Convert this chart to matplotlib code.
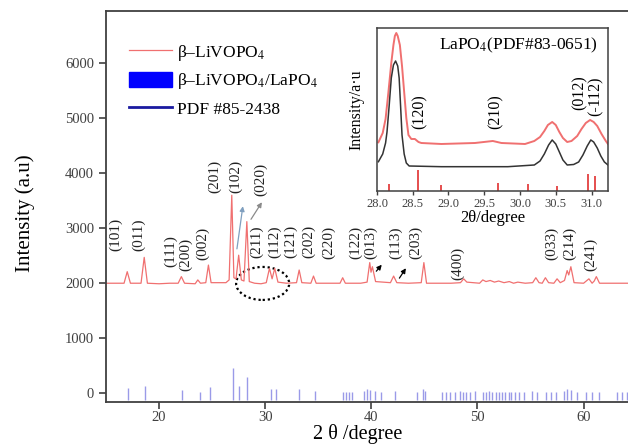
import matplotlib
matplotlib.use("Agg")
from matplotlib import pyplot as plt
from matplotlib.lines import Line2D
from matplotlib.patches import Patch, Ellipse

plt.rcParams["font.family"] = ["Liberation Serif", "DejaVu Serif"]
plt.rcParams["mathtext.fontset"] = "stix"

# main XRD pattern of beta-LiVOPO4
two_theta = [15.0, 16.7, 17.0, 17.3, 18.3, 18.6, 18.9, 20.0, 21.0, 21.8, 22.1,
             22.4, 23.4, 23.65, 23.9, 24.4, 24.65, 24.9, 26.3, 26.6, 26.85,
             27.05, 27.25, 27.5, 27.75, 28.0, 28.27, 28.5, 29.0, 29.6, 30.1,
             30.4, 30.65, 30.9, 31.2, 32.0, 32.95, 33.2, 33.45, 34.3, 34.55,
             34.8, 36.0, 37.05, 37.3, 37.55, 39.0, 39.6, 39.85, 39.97, 40.1,
             40.4, 41.8, 42.1, 42.4, 43.5, 44.7, 44.95, 45.2, 46.5, 47.5,
             48.4, 48.7, 49.0, 49.6, 50.2, 50.5, 50.8, 51.2, 51.6, 52.0, 52.5,
             53.0, 53.4, 53.8, 54.5, 55.2, 55.5, 55.8, 56.1, 56.4, 56.7, 57.2,
             57.5, 57.8, 58.2, 58.45, 58.6, 58.8, 59.1, 60.0, 60.5, 60.8, 61.0,
             61.2, 61.5, 62.5, 64.2, 65.0]
intensity = [2000, 2000, 2210, 2000, 2000, 2470, 2000, 1990, 2000, 2000, 2120,
             2000, 1990, 2060, 2000, 2010, 2330, 2010, 2010, 2060, 3600,
             2100, 2080, 2510, 2060, 2040, 3120, 2030, 2000, 1990, 2010,
             2270, 2080, 2270, 2020, 2000, 2010, 2240, 2010, 2000, 2130,
             2000, 2000, 2000, 2100, 2000, 2000, 2020, 2375, 2200, 2300,
             2030, 2010, 2130, 2010, 2000, 2010, 2375, 2000, 2000, 2000,
             2010, 2080, 2020, 2010, 2000, 2060, 2030, 2050, 2020, 2040, 2010,
             2030, 2000, 2020, 2000, 2010, 2100, 2010, 2000, 2100, 2010, 2000,
             2080, 2010, 2050, 2230, 2150, 2300, 2010, 2000, 2080, 2000, 2040,
             2120, 2000, 2000, 2000, 2000]

# PDF #85-2438 reference lines
pdf_pos = [17.1, 18.7, 22.2, 23.9, 24.8, 26.95, 27.5, 28.3, 30.5, 31.0, 33.2,
           34.7, 37.3, 37.6, 37.9, 38.2, 39.3, 39.6, 39.9, 40.3, 40.9, 42.2,
           44.3, 44.9, 45.1, 46.7, 47.0, 47.4, 47.9, 48.33, 48.65, 48.96,
           49.27, 49.81, 50.53, 50.85, 51.07, 51.39, 51.7, 52.01, 52.33,
           52.64, 52.95, 53.18, 53.49, 53.9, 54.43, 55.16, 55.63, 56.42,
           56.89, 57.36, 58.14, 58.46, 58.77, 59.4, 60.19, 60.82, 61.44,
           63.18, 63.65, 64.06]
pdf_int = [90, 140, 50, 30, 110, 455, 140, 300, 70, 70, 70,
           40, 30, 30, 30, 30, 40, 85, 50, 40, 20, 40,
           20, 70, 40, 20, 20, 20, 30, 40, 30, 30,
           30, 40, 30, 30, 40, 30, 30, 30, 30,
           30, 30, 30, 30, 30, 30, 40, 30, 30,
           30, 30, 40, 70, 60, 30, 30, 30, 30,
           30, 30, 30]
pdf_base = -130

hkl_labels = ["(101)", "(011)", "(111)", "(200)", "(002)", "(201)", "(102)",
              "(020)", "(211)", "(112)", "(121)", "(202)", "(220)", "(122)",
              "(013)", "(113)", "(203)", "(400)", "(033)", "(214)", "(241)"]
hkl_x = [15.95, 18.05, 21.1, 22.5, 24.1, 25.2, 27.25, 29.6, 29.2, 30.85, 32.4,
         34.05, 36.0, 38.55, 39.95, 42.3, 44.2, 48.1, 57.0, 58.7, 60.7]
hkl_y = [2887, 2887, 2578, 2532, 2723, 3941, 3941, 3896, 2760, 2760, 2760,
         2760, 2742, 2742, 2742, 2742, 2742, 2360, 2724, 2724, 2532]

# inset: zoom 28-31.2 deg
ins_red_x = [28.02, 28.08, 28.12, 28.16, 28.2, 28.23, 28.25, 28.27, 28.29,
             28.32, 28.35, 28.38, 28.41, 28.44, 28.48, 28.53, 28.58, 28.62,
             28.9, 29.37, 29.62, 29.74, 30.07, 30.2, 30.28, 30.34, 30.39,
             30.45, 30.5, 30.55, 30.6, 30.66, 30.72, 30.8, 30.86, 30.92,
             30.98, 31.03, 31.08, 31.14, 31.2, 31.23]
ins_red_y = [48.7, 58, 72, 99, 128, 146, 155, 158, 155, 146, 125, 99, 73, 56,
             52, 52, 49, 48, 47, 48, 50, 48, 47, 50, 54, 60, 66, 69, 66, 59,
             53, 49, 50, 55, 62, 68, 71, 69, 65, 57, 50, 47]
ins_blk_x = [28.02, 28.08, 28.12, 28.14, 28.17, 28.2, 28.23, 28.26, 28.29,
             28.31, 28.33, 28.35, 28.38, 28.41, 28.45, 28.9, 29.83, 30.2,
             30.28, 30.34, 30.4, 30.45, 30.5, 30.55, 30.6, 30.66, 30.75,
             30.82, 30.88, 30.94, 30.99, 31.03, 31.08, 31.13, 31.18, 31.23]
ins_blk_y = [29.3, 37, 48, 59, 85, 113, 126, 130, 125, 113, 85, 56, 37, 28,
             25, 24.3, 24.3, 26, 30, 37, 46, 51, 47, 39, 31, 26, 26.5, 29, 36,
             45, 51, 49, 43, 35, 29, 26]
lapo_pos = [28.17, 28.58, 28.9, 29.69, 30.11, 30.52, 30.95, 31.05]
lapo_int = [6.7, 21, 6, 8.3, 6.7, 5.3, 16.7, 15.3]
ins_hkl = ["(120)", "(210)", "(012)", "(-112)"]
ins_hkl_x = [28.6, 29.66, 30.84, 31.06]
ins_hkl_y = [79.5, 79.5, 98.5, 95]

spine_col = "#404040"
red = "#f07070"

fig = plt.figure(figsize=(6.28, 4.45), dpi=100)
ax = fig.add_axes([0.1688, 0.0966, 0.845, 0.8787])
ax.plot(two_theta, intensity, color=red, lw=0.9)
ax.vlines(pdf_pos, pdf_base, pdf_int, color="#9a9ae8", lw=1.0)
ax.set_xlim(15, 65)
ax.set_ylim(-160, 6950)
ax.set_xticks([20, 30, 40, 50, 60])
ax.set_yticks([0, 1000, 2000, 3000, 4000, 5000, 6000])
ax.tick_params(direction="out", length=5, width=1.2, colors=spine_col,
               labelsize=10.5)
ax.tick_params(axis="x", pad=1.5)
for s in ax.spines.values():
    s.set_color(spine_col)
    s.set_linewidth(1.3)

for lab, x, y in zip(hkl_labels, hkl_x, hkl_y):
    ax.text(x, y, lab, rotation=90, ha="center", va="center", fontsize=11,
            color="#222222")

ax.annotate("", xy=(27.93, 3450), xytext=(27.3, 2575),
            arrowprops=dict(arrowstyle="-|>", color="#7f9fbf", lw=0.9,
                            mutation_scale=7))
ax.annotate("", xy=(29.83, 3515), xytext=(28.52, 3120),
            arrowprops=dict(arrowstyle="-|>", color="#8a8a8a", lw=0.9,
                            mutation_scale=7))
ax.annotate("", xy=(41.15, 2375), xytext=(40.3, 2180),
            arrowprops=dict(arrowstyle="-|>", color="black", lw=0.9,
                            mutation_scale=7))
ax.annotate("", xy=(43.4, 2315), xytext=(42.5, 2050),
            arrowprops=dict(arrowstyle="-|>", color="black", lw=0.9,
                            mutation_scale=7))
ax.add_patch(Ellipse((29.76, 1996), 5.0, 600, fill=False, edgecolor="black",
                     lw=1.6, linestyle=(0, (1, 1.3))))

handles = [Line2D([], [], color=red, lw=0.9),
           Patch(facecolor="#0000ff", edgecolor="#0000ff"),
           Line2D([], [], color="#1a1aa0", lw=2)]
labels = ["β–LiVOPO$_4$", "β–LiVOPO$_4$/LaPO$_4$", "PDF #85-2438"]
ax.legend(handles, labels, loc="upper left", bbox_to_anchor=(0.02, 0.95),
          frameon=False, fontsize=12.5, handlelength=2.5, handleheight=1.0,
          labelspacing=0.5, handletextpad=0.3, borderaxespad=0.3)

fig.text(0.04, 0.52, "Intensity (a.u)", rotation=90, ha="center",
         va="center", fontsize=15)
fig.text(0.569, 0.014, "2 θ /degree", ha="center", va="baseline",
         fontsize=14.5)

# inset
ins = fig.add_axes([0.6003, 0.5708, 0.3678, 0.3663])
ins.plot(ins_red_x, ins_red_y, color=red, lw=1.4)
ins.plot(ins_blk_x, ins_blk_y, color="#333333", lw=1.1)
ins.vlines(lapo_pos, 0, lapo_int, color="#e03030", lw=1.2)
ins.set_xlim(28.0, 31.23)
ins.set_ylim(0, 163)
ins.set_xticks([28.0, 28.5, 29.0, 29.5, 30.0, 30.5, 31.0])
ins.set_xticklabels(["28.0", "28.5", "29.0", "29.5", "30.0", "30.5", "31.0"])
ins.set_yticks([])
ins.tick_params(direction="out", length=3, width=1.0, colors=spine_col,
                labelsize=9, pad=2)
for s in ins.spines.values():
    s.set_color(spine_col)
    s.set_linewidth(1.1)
ins.set_xlabel("2θ/degree", fontsize=12, labelpad=0)
ins.set_ylabel("Intensity/a·u", fontsize=11.5, labelpad=9)
ins.text(0.957, 0.896, "LaPO$_4$(PDF#83-0651)", transform=ins.transAxes,
         ha="right", va="center", fontsize=12.5)
for lab, x, y in zip(ins_hkl, ins_hkl_x, ins_hkl_y):
    ins.text(x, y, lab, rotation=90, ha="center", va="center", fontsize=11.5)

fig.savefig("out.png", dpi=100)
